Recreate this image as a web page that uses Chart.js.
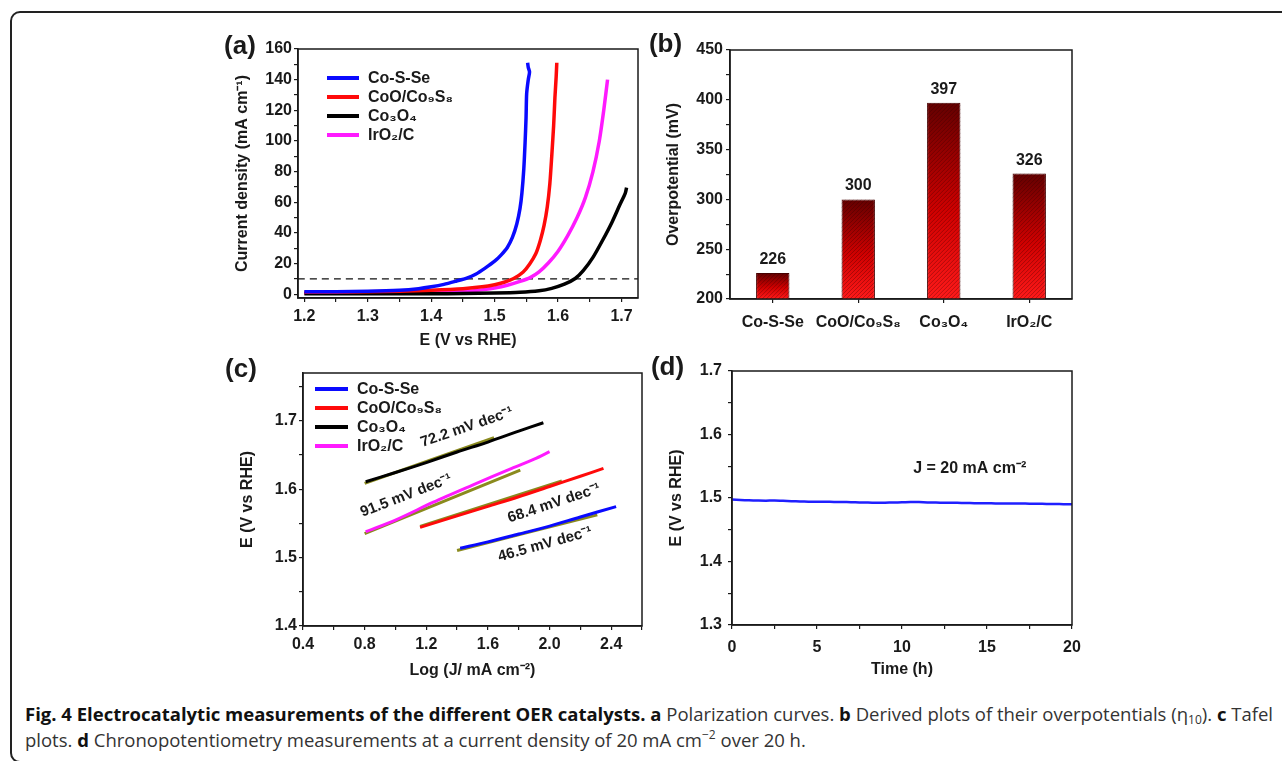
<!DOCTYPE html>
<html>
<head>
<meta charset="utf-8">
<script src="https://cdn.jsdelivr.net/npm/chart.js@4.4.0/dist/chart.umd.min.js"></script>
<style>
    html, body { margin: 0; padding: 0; background: #fff; }
    body { width: 1282px; height: 761px; position: relative; overflow: hidden; }
    .frame { position: absolute; left: 10px; top: 11px; width: 1300px; height: 748px; border: 2px solid #222; border-radius: 10px; }
    .panel { position: absolute; }
    .caption { position: absolute; left: 25px; top: 701px; font: 18.5px 'Open Sans', sans-serif; line-height: 26px; color: #333; white-space: nowrap; }
    .caption b { font-weight: 700; color: #111; }
    .caption sub, .caption sup { font-size: 12px; line-height: 0; }
    .caption sub { vertical-align: -3px; }
    .caption sup { vertical-align: 8px; }
</style>
</head>
<body>
<div class="frame"></div>
<div class="panel" style="left:200px;top:30px;width:450px;height:330px"><canvas id="chartA"></canvas></div>
<div class="panel" style="left:640px;top:30px;width:450px;height:330px"><canvas id="chartB"></canvas></div>
<div class="panel" style="left:200px;top:350px;width:450px;height:340px"><canvas id="chartC"></canvas></div>
<div class="panel" style="left:640px;top:350px;width:450px;height:340px"><canvas id="chartD"></canvas></div>
<div class="caption"><b>Fig. 4 Electrocatalytic measurements of the different OER catalysts.</b> <b>a</b> Polarization curves. <b>b</b> Derived plots of their overpotentials (η<sub>10</sub>). <b>c</b> Tafel<br>plots. <b>d</b> Chronopotentiometry measurements at a current density of 20 mA cm<sup>−2</sup> over 20 h.</div>

<script>
// ---- (a) polarization curves: [E (V vs RHE), J (mA cm-2)]
const aCoSSe = [[1.20, 1.5], [1.25, 1.6], [1.30, 1.9], [1.35, 2.6], [1.38, 3.6], [1.40, 4.8], [1.42, 6.4],
    [1.44, 8.6], [1.456, 10.5], [1.47, 13], [1.485, 17], [1.50, 21.5], [1.51, 25.5], [1.52, 30.5],
    [1.528, 37], [1.535, 46], [1.54, 56], [1.543, 66], [1.546, 82], [1.548, 99], [1.5495, 115],
    [1.5505, 131], [1.553, 140], [1.555, 145], [1.553, 148], [1.552, 151]];
const aCoOCo9S8 = [[1.20, 1.2], [1.25, 1.3], [1.30, 1.5], [1.35, 1.9], [1.40, 2.6], [1.45, 3.6], [1.48, 4.8],
    [1.50, 6.2], [1.515, 7.8], [1.53, 10.2], [1.545, 14.5], [1.555, 19.5], [1.565, 26.5], [1.572, 35],
    [1.578, 45], [1.583, 57], [1.587, 72], [1.590, 90], [1.593, 110], [1.595, 128], [1.597, 142], [1.598, 151]];
const aCo3O4 = [[1.20, 0.2], [1.30, 0.2], [1.40, 0.3], [1.45, 0.4], [1.50, 0.7], [1.54, 1.2], [1.57, 2.2],
    [1.59, 3.8], [1.61, 6.5], [1.627, 10.2], [1.64, 15.5], [1.655, 24], [1.67, 35], [1.685, 47],
    [1.697, 58], [1.706, 66], [1.708, 69.5]];
const aIrO2C = [[1.20, 0.6], [1.25, 0.7], [1.30, 0.8], [1.35, 0.9], [1.40, 1.2], [1.45, 1.8], [1.48, 2.8],
    [1.50, 4], [1.52, 5.8], [1.54, 8.3], [1.556, 10.8], [1.57, 14.5], [1.585, 20.5], [1.60, 28],
    [1.615, 38], [1.63, 50], [1.643, 63], [1.655, 80], [1.665, 100], [1.672, 120], [1.678, 140]];
const aRefJ = 10;
const aXMajor = [1.2, 1.3, 1.4, 1.5, 1.6, 1.7];
const aXMinor = [1.25, 1.35, 1.45, 1.55, 1.65];
const aYMajor = [0, 20, 40, 60, 80, 100, 120, 140, 160];
const aYMinor = [10, 30, 50, 70, 90, 110, 130, 150];

// ---- (b) overpotentials at 10 mA cm-2
const bCatalysts = ['Co-S-Se', 'CoO/Co₉S₈', 'Co₃O₄', 'IrO₂/C'];
const bValues = [226, 300, 397, 326];
const bYMajor = [200, 250, 300, 350, 400, 450];
const bYMinor = [225, 275, 325, 375, 425];

// ---- (c) Tafel plots: [log J, E]
const cCoSSe = [[1.42, 1.5136], [1.6, 1.523], [1.8, 1.5345], [2.0, 1.546], [2.2, 1.5595], [2.432, 1.5745]];
const cCoOCo9S8 = [[1.16, 1.5443], [1.4, 1.561], [1.6, 1.575], [1.8, 1.589], [2.0, 1.604], [2.2, 1.619], [2.35, 1.6306]];
const cCo3O4 = [[0.807, 1.611], [1.0, 1.6245], [1.2, 1.639], [1.4, 1.6545], [1.6, 1.669], [1.8, 1.685], [1.96, 1.6973]];
const cIrO2C = [[0.807, 1.538], [1.0, 1.555], [1.246, 1.581], [1.5, 1.606], [1.755, 1.6306], [1.9, 1.644], [2.0, 1.655]];
const cFitCoSSe = [[1.40, 1.5105], [2.31, 1.5625]];
const cFitCoOCo9S8 = [[1.16, 1.5455], [2.08, 1.612]];
const cFitCo3O4 = [[0.80, 1.6085], [1.64, 1.6755]];
const cFitIrO2C = [[0.80, 1.535], [1.81, 1.628]];
const cSlopes = ['46.5 mV dec⁻¹', '68.4 mV dec⁻¹', '72.2 mV dec⁻¹', '91.5 mV dec⁻¹'];
const cXMajor = [0.4, 0.8, 1.2, 1.6, 2.0, 2.4];
const cXMinor = [0.6, 1.0, 1.4, 1.8, 2.2, 2.6];
const cYMajor = [1.4, 1.5, 1.6, 1.7];
const cYMinor = [1.45, 1.55, 1.65, 1.75];

// ---- (d) chronopotentiometry at 20 mA cm-2
const dTime = [0, 0.5, 1, 1.5, 2, 2.5, 3, 3.5, 4, 4.5, 5, 5.5, 6, 6.5, 7, 7.5, 8, 8.5, 9, 9.5, 10,
    10.5, 11, 11.5, 12, 12.5, 13, 13.5, 14, 14.5, 15, 15.5, 16, 16.5, 17, 17.5, 18, 18.5, 19, 19.5, 20];
const dPotential = [1.4975, 1.4968, 1.4963, 1.4960, 1.4958, 1.4962, 1.4955, 1.4950, 1.4946, 1.4942, 1.4940,
    1.4941, 1.4938, 1.4936, 1.4934, 1.4930, 1.4928, 1.4926, 1.4927, 1.4929, 1.4932,
    1.4938, 1.4936, 1.4930, 1.4928, 1.4926, 1.4925, 1.4922, 1.4920, 1.4918, 1.4917,
    1.4915, 1.4914, 1.4913, 1.4912, 1.4911, 1.4909, 1.4907, 1.4905, 1.4903, 1.4901];
const dXMajor = [0, 5, 10, 15, 20];
const dXMinor = [2.5, 7.5, 12.5, 17.5];
const dYMajor = [1.3, 1.4, 1.5, 1.6, 1.7];
const dYMinor = [1.35, 1.45, 1.55, 1.65];

const INK = '#1a1a1a';
const FONT = "'Liberation Sans', Arial, sans-serif";
Chart.defaults.font.family = FONT;
Chart.defaults.font.weight = 'bold';
Chart.defaults.color = INK;
Chart.defaults.animation = false;

const toXY = pts => pts.map(p => ({ x: p[0], y: p[1] }));

// box round the plot area
const boxFrame = {
    id: 'boxFrame',
    afterDatasetsDraw(chart) {
        const { ctx, chartArea: a } = chart;
        ctx.save();
        ctx.strokeStyle = INK;
        ctx.lineWidth = 1.5;
        ctx.strokeRect(a.left, a.top, a.right - a.left, a.bottom - a.top);
        ctx.restore();
    }
};

// (a), (b) ... letters, in canvas pixels
const panelTag = {
    id: 'panelTag',
    afterDraw(chart, args, opts) {
        const ctx = chart.ctx;
        ctx.save();
        ctx.font = 'bold 26px ' + FONT;
        ctx.fillStyle = INK;
        ctx.textAlign = 'center';
        ctx.textBaseline = 'middle';
        ctx.fillText(opts.text, opts.x, opts.y);
        ctx.restore();
    }
};

// legend drawn inside the plot area, top left
const insideLegend = {
    id: 'insideLegend',
    afterDraw(chart, args, opts) {
        if (!opts.step) return;
        const { ctx, chartArea } = chart;
        const x = chartArea.left + opts.left;
        let y = chartArea.top + opts.top;
        ctx.save();
        ctx.font = 'bold 16px ' + FONT;
        ctx.textBaseline = 'middle';
        chart.data.datasets.forEach(ds => {
            if (!ds.inLegend) return;
            ctx.strokeStyle = ds.borderColor;
            ctx.lineWidth = 4;
            ctx.beginPath();
            ctx.moveTo(x, y);
            ctx.lineTo(x + opts.len, y);
            ctx.stroke();
            ctx.fillStyle = INK;
            ctx.fillText(ds.label, x + opts.len + opts.gap, y + 1);
            y += opts.step;
        });
        ctx.restore();
    }
};

// free text placed in data coordinates
const textNotes = {
    id: 'textNotes',
    afterDraw(chart, args, opts) {
        if (!opts.items) return;
        const { ctx, scales } = chart;
        opts.items.forEach(n => {
            ctx.save();
            ctx.translate(scales.x.getPixelForValue(n.x), scales.y.getPixelForValue(n.y));
            ctx.rotate((n.angle || 0) * Math.PI / 180);
            ctx.font = 'bold ' + (n.size || 15) + 'px ' + FONT;
            ctx.fillStyle = INK;
            ctx.textAlign = n.align || 'center';
            ctx.textBaseline = 'middle';
            ctx.fillText(n.text, 0, 0);
            ctx.restore();
        });
    }
};

// hatching and value labels on the bars of (b)
const barDecor = {
    id: 'barDecor',
    afterDatasetsDraw(chart) {
        const ctx = chart.ctx;
        const bottom = chart.chartArea.bottom;
        chart.getDatasetMeta(0).data.forEach((bar, i) => {
            const { x, y, base, width } = bar.getProps(['x', 'y', 'base', 'width'], true);
            const b = Math.min(base, bottom);
            const l = x - width / 2;
            const h = b - y;
            ctx.save();
            ctx.beginPath();
            ctx.rect(l, y, width, h);
            ctx.clip();
            ctx.strokeStyle = 'rgba(40, 0, 0, 0.3)';
            ctx.lineWidth = 1;
            for (let k = l - h; k < l + width; k += 4) {
                ctx.beginPath();
                ctx.moveTo(k, b);
                ctx.lineTo(k + h, y);
                ctx.stroke();
            }
            ctx.restore();
            ctx.save();
            ctx.font = 'bold 16px ' + FONT;
            ctx.fillStyle = INK;
            ctx.textAlign = 'center';
            ctx.fillText(String(bValues[i]), x, y - 9);
            ctx.restore();
        });
    }
};

function linearAxis(min, max, major, minor, digits) {
    return {
        type: 'linear',
        min: min,
        max: max,
        afterBuildTicks: function (scale) {
            scale.ticks = major.concat(minor).sort((p, q) => p - q).map(v => ({ value: v }));
        },
        ticks: {
            autoSkip: false,
            maxRotation: 0,
            color: INK,
            font: { size: 16, weight: 'bold' },
            callback: function (value) {
                return major.includes(value) ? value.toFixed(digits) : '';
            }
        },
        grid: { drawOnChartArea: false, drawTicks: true, tickLength: 4, color: INK, lineWidth: 1.2 },
        border: { display: true, color: INK, width: 1.5 }
    };
}

function axisTitle(text, padding) {
    return { display: true, text: text, color: INK, font: { size: 16, weight: 'bold' }, padding: padding };
}

function fixWidth(w) { return function (scale) { scale.width = w; }; }
function fixHeight(h) { return function (scale) { scale.height = h; }; }

// ---------- (a)
const axA = linearAxis(1.19, 1.726, aXMajor, aXMinor, 1);
axA.ticks.padding = 5;
axA.title = axisTitle('E (V vs RHE)', { top: 2, bottom: 10 });
axA.afterFit = fixHeight(62);
const ayA = linearAxis(-2.5, 160, aYMajor, aYMinor, 0);
ayA.ticks.padding = 2;
ayA.title = axisTitle('Current density (mA cm⁻¹)', { top: 4, bottom: 2 });
ayA.afterFit = fixWidth(69);

new Chart(document.getElementById('chartA'), {
    type: 'line',
    data: {
        datasets: [
            { label: 'Co-S-Se', data: toXY(aCoSSe), borderColor: '#0a0aff', inLegend: true },
            { label: 'CoO/Co₉S₈', data: toXY(aCoOCo9S8), borderColor: '#ff0a0a', inLegend: true },
            { label: 'Co₃O₄', data: toXY(aCo3O4), borderColor: '#000000', inLegend: true },
            { label: 'IrO₂/C', data: toXY(aIrO2C), borderColor: '#ff1aff', inLegend: true },
            {
                label: 'η10', data: [{ x: 1.19, y: aRefJ }, { x: 1.726, y: aRefJ }],
                borderColor: '#111', borderWidth: 1.4, borderDash: [7, 5]
            }
        ]
    },
    options: {
        responsive: true,
        maintainAspectRatio: false,
        layout: { padding: { left: 29, top: 19, right: 12, bottom: 0 } },
        elements: {
            line: { borderWidth: 3.5, tension: 0.25, fill: false },
            point: { radius: 0, hoverRadius: 0 }
        },
        plugins: {
            legend: { display: false },
            tooltip: { enabled: false },
            panelTag: { text: '(a)', x: 40, y: 17 },
            insideLegend: { left: 29, top: 29, step: 19, len: 32, gap: 9 }
        },
        scales: { x: axA, y: ayA }
    },
    plugins: [boxFrame, panelTag, insideLegend]
});

// ---------- (b)
const ayB = linearAxis(200, 450, bYMajor, bYMinor, 0);
ayB.ticks.padding = 3;
ayB.title = axisTitle('Overpotential (mV)', { top: 4, bottom: 2 });
ayB.afterFit = fixWidth(70);

new Chart(document.getElementById('chartB'), {
    type: 'bar',
    data: {
        labels: bCatalysts,
        datasets: [{
            label: 'Overpotential (mV)',
            data: bValues,
            backgroundColor: function (context) {
                const { ctx, chartArea, scales } = context.chart;
                if (!chartArea) return '#c00000';
                const top = scales.y.getPixelForValue(context.raw);
                const g = ctx.createLinearGradient(0, top, 0, chartArea.bottom);
                g.addColorStop(0, '#640000');
                g.addColorStop(0.55, '#d00000');
                g.addColorStop(1, '#ff1a1a');
                return g;
            },
            borderColor: '#4a0000',
            borderWidth: 1,
            barPercentage: 0.39,
            categoryPercentage: 1
        }]
    },
    options: {
        responsive: true,
        maintainAspectRatio: false,
        layout: { padding: { left: 20, top: 20, right: 18, bottom: 0 } },
        plugins: {
            legend: { display: false },
            tooltip: { enabled: false },
            panelTag: { text: '(b)', x: 25.5, y: 15 }
        },
        scales: {
            x: {
                ticks: { color: INK, font: { size: 16, weight: 'bold' }, padding: 10, maxRotation: 0, autoSkip: false },
                grid: { drawOnChartArea: false, drawTicks: true, tickLength: 4, color: INK, lineWidth: 1.2, offset: false },
                border: { display: true, color: INK, width: 1.5 },
                afterFit: fixHeight(61)
            },
            y: ayB
        }
    },
    plugins: [boxFrame, panelTag, barDecor]
});

// ---------- (c)
const axC = linearAxis(0.4, 2.6, cXMajor, cXMinor, 1);
axC.ticks.padding = 5;
axC.title = axisTitle('Log (J/ mA cm⁻²)', { top: 2, bottom: 10 });
axC.afterFit = fixHeight(64);
const ayC = linearAxis(1.4, 1.77, cYMajor, cYMinor, 1);
ayC.ticks.padding = 2;
ayC.title = axisTitle('E (V vs RHE)', { top: 4, bottom: 2 });
ayC.afterFit = fixWidth(69);

const fitColor = '#8a8a1e';
new Chart(document.getElementById('chartC'), {
    type: 'line',
    data: {
        datasets: [
            { label: 'Co-S-Se', data: toXY(cCoSSe), borderColor: '#0a0aff', inLegend: true },
            { label: 'CoO/Co₉S₈', data: toXY(cCoOCo9S8), borderColor: '#ff0a0a', inLegend: true },
            { label: 'Co₃O₄', data: toXY(cCo3O4), borderColor: '#000000', inLegend: true },
            { label: 'IrO₂/C', data: toXY(cIrO2C), borderColor: '#ff1aff', inLegend: true },
            { label: 'fit Co-S-Se', data: toXY(cFitCoSSe), borderColor: fitColor },
            { label: 'fit CoO/Co9S8', data: toXY(cFitCoOCo9S8), borderColor: fitColor },
            { label: 'fit Co3O4', data: toXY(cFitCo3O4), borderColor: fitColor },
            { label: 'fit IrO2/C', data: toXY(cFitIrO2C), borderColor: fitColor }
        ]
    },
    options: {
        responsive: true,
        maintainAspectRatio: false,
        layout: { padding: { left: 34, top: 23, right: 8, bottom: 0 } },
        elements: {
            line: { borderWidth: 3, tension: 0.3, fill: false },
            point: { radius: 0, hoverRadius: 0 }
        },
        plugins: {
            legend: { display: false },
            tooltip: { enabled: false },
            panelTag: { text: '(c)', x: 41, y: 20 },
            insideLegend: { left: 12, top: 16, step: 19, len: 33, gap: 9 },
            textNotes: {
                items: [
                    { text: cSlopes[2], x: 1.463, y: 1.6906, angle: -19 },
                    { text: cSlopes[3], x: 1.069, y: 1.5906, angle: -21 },
                    { text: cSlopes[1], x: 2.03, y: 1.5794, angle: -18.5 },
                    { text: cSlopes[0], x: 1.971, y: 1.5195, angle: -15.5 }
                ]
            }
        },
        scales: { x: axC, y: ayC }
    },
    plugins: [boxFrame, panelTag, insideLegend, textNotes]
});

// ---------- (d)
const axD = linearAxis(0, 20, dXMajor, dXMinor, 0);
axD.ticks.padding = 9;
axD.title = axisTitle('Time (h)', { top: 2, bottom: 11 });
axD.afterFit = fixHeight(65);
const ayD = linearAxis(1.3, 1.7, dYMajor, dYMinor, 1);
ayD.ticks.padding = 6;
ayD.title = axisTitle('E (V vs RHE)', { top: 4, bottom: 2 });
ayD.afterFit = fixWidth(69);

new Chart(document.getElementById('chartD'), {
    type: 'line',
    data: {
        datasets: [{
            label: 'Co-S-Se',
            data: dTime.map((t, i) => ({ x: t, y: dPotential[i] })),
            borderColor: '#1f1fff',
            borderWidth: 2.5
        }]
    },
    options: {
        responsive: true,
        maintainAspectRatio: false,
        layout: { padding: { left: 23, top: 21, right: 18, bottom: 0 } },
        elements: {
            line: { tension: 0.2, fill: false },
            point: { radius: 0, hoverRadius: 0 }
        },
        plugins: {
            legend: { display: false },
            tooltip: { enabled: false },
            panelTag: { text: '(d)', x: 27.5, y: 18 },
            textNotes: { items: [{ text: 'J = 20 mA cm⁻²', x: 10.66, y: 1.547, align: 'left', size: 16 }] }
        },
        scales: { x: axD, y: ayD }
    },
    plugins: [boxFrame, panelTag, textNotes]
});
</script>
</body>
</html>
